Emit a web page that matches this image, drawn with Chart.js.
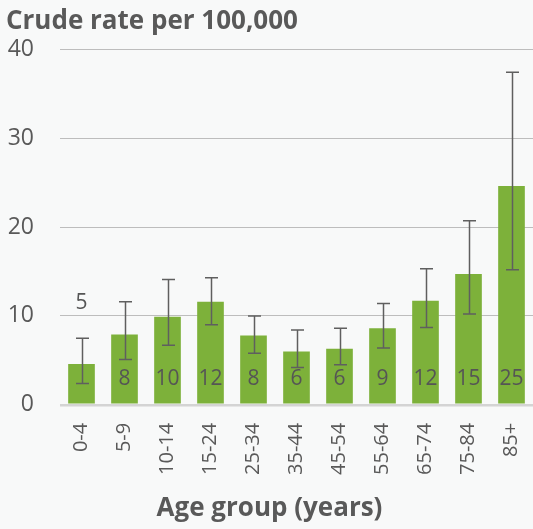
<!DOCTYPE html>
<html>
<head>
<meta charset="utf-8">
<script src="https://cdn.jsdelivr.net/npm/chart.js@4/dist/chart.umd.min.js"></script>
<style>
  html, body { margin: 0; padding: 0; background: #f8f9f9; }
  #wrap { position: relative; width: 533px; height: 529px; }
</style>
</head>
<body>
<div id="wrap"><canvas id="chart"></canvas></div>
<script>
// crude rate per 100,000 by age group, with 95% CI
const ageGroups = ["0-4", "5-9", "10-14", "15-24", "25-34", "35-44", "45-54", "55-64", "65-74", "75-84", "85+"];
const rates = [4.6, 7.9, 9.9, 11.6, 7.8, 6.0, 6.3, 8.6, 11.7, 14.7, 24.6];
const ciLow = [2.4, 5.1, 6.7, 9.0, 5.8, 4.2, 4.5, 6.4, 8.7, 10.2, 15.2];
const ciHigh = [7.5, 11.6, 14.1, 14.3, 10.0, 8.4, 8.6, 11.4, 15.3, 20.7, 37.4];
const yTicks = [0, 10, 20, 30, 40];

const TEXT = "#595959";
const BAR = "#7db13a";
const FONT = "'Open Sans', 'Noto Sans', sans-serif";

// error bars + value labels
const extras = {
  id: "extras",
  afterDatasetsDraw(chart) {
    const { ctx, scales: { y } } = chart;
    const meta = chart.getDatasetMeta(0);
    ctx.save();
    ctx.strokeStyle = "#5f5f5f";
    ctx.lineWidth = 1.5;
    meta.data.forEach((bar, i) => {
      const cx = Math.round(bar.x) + 0.5;
      const top = y.getPixelForValue(ciHigh[i]);
      const bot = y.getPixelForValue(ciLow[i]);
      ctx.beginPath();
      ctx.moveTo(cx, top);
      ctx.lineTo(cx, bot);
      ctx.moveTo(cx - 6.5, top);
      ctx.lineTo(cx + 6.5, top);
      ctx.moveTo(cx - 6.5, bot);
      ctx.lineTo(cx + 6.5, bot);
      ctx.stroke();
    });
    ctx.fillStyle = "#555";
    ctx.font = "21px " + FONT;
    ctx.textAlign = "center";
    ctx.textBaseline = "middle";
    const base = y.getPixelForValue(0);
    meta.data.forEach((bar, i) => {
      const label = String(Math.round(rates[i]));
      let ly = base - 26;
      // too short to hold the label: put it above the error bar
      if (base - bar.y < 48) ly = y.getPixelForValue(ciHigh[i]) - 35;
      ctx.fillText(label, bar.x, ly);
    });
    ctx.restore();
  }
};

new Chart(document.getElementById("chart"), {
  type: "bar",
  data: {
    labels: ageGroups,
    datasets: [{
      data: rates,
      backgroundColor: BAR,
      borderWidth: 0,
      barPercentage: 0.62,
      categoryPercentage: 1
    }]
  },
  options: {
    responsive: true,
    maintainAspectRatio: false,
    animation: false,
    layout: { padding: { left: 6, right: 0, top: 4, bottom: 4 } },
    plugins: {
      legend: { display: false },
      tooltip: { enabled: false },
      title: {
        display: true,
        text: "Crude rate per 100,000",
        align: "start",
        color: TEXT,
        font: { family: FONT, size: 26, weight: "bold" },
        padding: { top: 2, bottom: 12 }
      },
      subtitle: {
        display: true,
        position: "bottom",
        text: "Age group (years)",
        color: TEXT,
        font: { family: FONT, size: 26, weight: "bold" },
        padding: { top: 0, bottom: 1 }
      }
    },
    scales: {
      x: {
        grid: { display: false },
        border: { display: false },
        ticks: {
          color: TEXT,
          font: { family: FONT, size: 20 },
          minRotation: 90,
          maxRotation: 90,
          padding: 10
        },
        afterFit: (s) => {
          s.paddingLeft = 0;
          s.paddingRight = 0;
          s.height = 88;
        }
      },
      y: {
        min: 0,
        max: 40,
        afterBuildTicks: (s) => { s.ticks = yTicks.map((v) => ({ value: v })); },
        border: { display: false },
        grid: {
          drawTicks: false,
          color: (c) => (c.tick && c.tick.value === 0 ? "#d4d4d4" : "#bdbdbd"),
          lineWidth: (c) => (c.tick && c.tick.value === 0 ? 2.5 : 1)
        },
        ticks: {
          color: TEXT,
          font: { family: FONT, size: 23 },
          padding: 26
        },
        afterFit: (s) => {
          s.width = 54;
          s.paddingTop = 0;
          s.paddingBottom = 0;
        }
      }
    }
  },
  plugins: [extras]
});
</script>
</body>
</html>
